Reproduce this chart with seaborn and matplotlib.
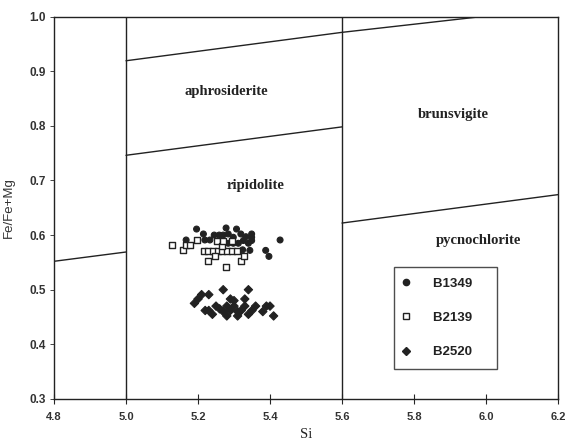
import matplotlib
matplotlib.use("Agg")
import matplotlib.pyplot as plt
import pandas as pd
import seaborn as sns

# sample B1349 (filled circles)
b1349_si = [5.196, 5.278, 5.307, 5.349, 5.167, 5.215, 5.245, 5.259, 5.270, 5.284,
            5.298, 5.319, 5.333, 5.349, 5.349, 5.219, 5.233, 5.270, 5.284, 5.298,
            5.312, 5.326, 5.340, 5.344, 5.324, 5.428, 5.388, 5.397]
b1349_fe = [0.611, 0.613, 0.611, 0.602, 0.591, 0.602, 0.600, 0.600, 0.600, 0.602,
            0.596, 0.602, 0.597, 0.596, 0.590, 0.591, 0.591, 0.585, 0.585, 0.585,
            0.585, 0.590, 0.585, 0.572, 0.573, 0.591, 0.572, 0.561]

# sample B2139 (open squares)
b2139_si = [5.127, 5.157, 5.168, 5.178, 5.196, 5.217, 5.229, 5.243, 5.256, 5.268,
            5.281, 5.294, 5.307, 5.229, 5.247, 5.278, 5.319, 5.328, 5.252, 5.266,
            5.294, 5.270]
b2139_fe = [0.582, 0.572, 0.582, 0.582, 0.591, 0.570, 0.570, 0.570, 0.570, 0.570,
            0.570, 0.570, 0.570, 0.552, 0.561, 0.541, 0.552, 0.561, 0.590, 0.580,
            0.590, 0.590]

# sample B2520 (diamonds)
b2520_si = [5.20, 5.21, 5.23, 5.27, 5.34, 5.29, 5.33, 5.19, 5.22, 5.24,
            5.25, 5.27, 5.28, 5.29, 5.30, 5.31, 5.32, 5.33, 5.35, 5.36,
            5.38, 5.39, 5.40, 5.41, 5.30, 5.26, 5.31, 5.34, 5.23, 5.28]
b2520_fe = [0.483, 0.491, 0.491, 0.500, 0.500, 0.483, 0.483, 0.475, 0.462, 0.455,
            0.470, 0.460, 0.470, 0.462, 0.470, 0.452, 0.462, 0.470, 0.462, 0.470,
            0.460, 0.470, 0.470, 0.452, 0.480, 0.465, 0.460, 0.455, 0.462, 0.452]

# field boundaries
boundary_lines = [
    ([4.8, 5.0], [0.552, 0.569]),
    ([5.0, 5.6], [0.746, 0.798]),
    ([5.0, 5.6, 5.99], [0.919, 0.971, 1.0]),
    ([5.6, 6.2], [0.622, 0.674]),
    ([5.0, 5.0], [0.3, 1.0]),
    ([5.6, 5.6], [0.3, 1.0]),
]
field_names = ["aphrosiderite", "brunsvigite", "ripidolite", "pycnochlorite"]
field_si = [5.28, 5.91, 5.36, 5.98]
field_fe = [0.863, 0.820, 0.690, 0.590]

xticks = [4.8, 5.0, 5.2, 5.4, 5.6, 5.8, 6.0, 6.2]
yticks = [0.3, 0.4, 0.5, 0.6, 0.7, 0.8, 0.9, 1.0]

df = pd.concat([
    pd.DataFrame({"Si": b1349_si, "Fe": b1349_fe, "sample": "B1349"}),
    pd.DataFrame({"Si": b2139_si, "Fe": b2139_fe, "sample": "B2139"}),
    pd.DataFrame({"Si": b2520_si, "Fe": b2520_fe, "sample": "B2520"}),
], ignore_index=True)

sns.set_style("ticks")
ink = "#222222"

fig = plt.figure(figsize=(5.66, 4.46), dpi=100)
ax = fig.add_axes([0.0954, 0.1054, 0.8905, 0.8576])

for xs, ys in boundary_lines:
    ax.plot(xs, ys, color=ink, lw=1.0, zorder=1)

filled = df[df["sample"] != "B2139"]
sns.scatterplot(
    data=filled, x="Si", y="Fe", style="sample",
    markers={"B1349": "o", "B2520": "D"},
    ax=ax, legend=False, zorder=3, s=18, linewidth=0.8,
    color=ink, edgecolor=ink,
)
# open squares for B2139
sq = df[df["sample"] == "B2139"]
ax.scatter(sq["Si"], sq["Fe"], marker="s", s=20, facecolor="white",
           edgecolor=ink, linewidth=1.0, zorder=4)

for name, xv, yv in zip(field_names, field_si, field_fe):
    ax.text(xv, yv, name, ha="center", va="center", fontsize=10.5,
            fontweight="bold", family="Liberation Serif", color=ink)

ax.set_xlim(4.8, 6.2)
ax.set_ylim(0.3, 1.0)
ax.set_xticks(xticks)
ax.set_yticks(yticks)
ax.set_xticklabels([f"{v:.1f}" for v in xticks], fontweight="bold",
                   fontsize=8, color="#333333", family="Liberation Sans")
ax.set_yticklabels([f"{v:.1f}" for v in yticks], fontweight="bold",
                   fontsize=8.5, color="#333333", family="Liberation Sans")
ax.tick_params(axis="x", direction="inout", length=7, width=0.8, pad=6)
ax.tick_params(axis="y", direction="out", length=3, width=0.6, pad=3)
for sp in ax.spines.values():
    sp.set_color(ink)
    sp.set_linewidth(1.0)

ax.set_xlabel("Si", family="Liberation Serif", fontsize=10.5, labelpad=4, color=ink)
ax.set_ylabel("Fe/Fe+Mg", family="Liberation Sans", fontsize=9.5, labelpad=10, color="#333333")

handles = [
    plt.Line2D([], [], ls="", marker="o", ms=4.5, color=ink),
    plt.Line2D([], [], ls="", marker="s", ms=4.5, mfc="white", mec=ink, mew=1.0),
    plt.Line2D([], [], ls="", marker="D", ms=4, color=ink),
]
labels = ["B1349    ", "B2139    ", "B2520    "]
leg = ax.legend(handles, labels, loc="upper left",
                bbox_to_anchor=(0.675, 0.345), frameon=True, fancybox=False,
                edgecolor=ink, handletextpad=1.95, labelspacing=1.67,
                borderpad=0.8, borderaxespad=0, handlelength=0.2,
                prop={"family": "Liberation Sans", "weight": "bold", "size": 9.5})
leg.get_frame().set_linewidth(1.0)
for t in leg.get_texts():
    t.set_color(ink)

fig.savefig("out.png", dpi=100)
